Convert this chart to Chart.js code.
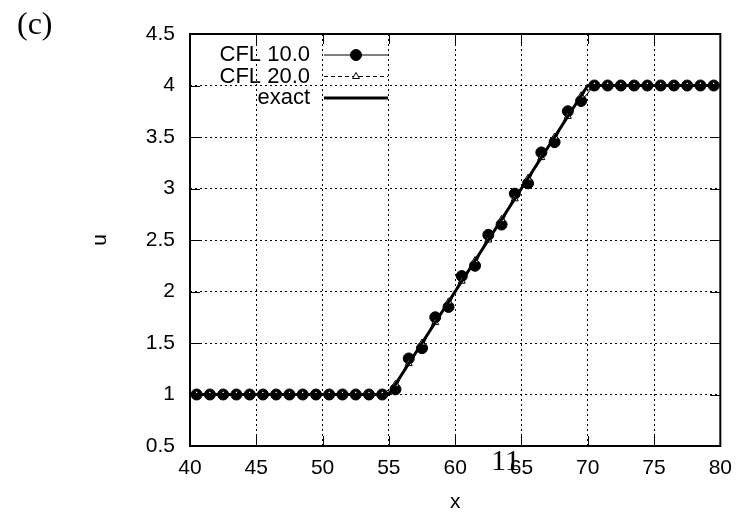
<!DOCTYPE html>
<html>
<head>
<meta charset="utf-8">
<script src="https://cdn.jsdelivr.net/npm/chart.js@4/dist/chart.umd.min.js"></script>
<style>
  html, body { margin: 0; padding: 0; background: #fff; }
  #wrap { position: relative; width: 742px; height: 515px; }
  #plot { position: absolute; left: 0; top: 0; }
  .note { position: absolute; color: #000; line-height: 1; white-space: nowrap;
          font-family: "Liberation Serif", "DejaVu Serif", serif; }
  #panel { left: 17px; top: 7px; font-size: 32px; }
  #page  { left: 491px; top: 445px; font-size: 30px; }
</style>
</head>
<body>
<div id="wrap">
  <canvas id="plot" width="742" height="515"></canvas>
  <div class="note" id="panel">(c)</div>
  <div class="note" id="page">11</div>
</div>
<script>
// cell centres of the grid
const cellCentres = [
  40.5, 41.5, 42.5, 43.5, 44.5, 45.5, 46.5, 47.5, 48.5, 49.5,
  50.5, 51.5, 52.5, 53.5, 54.5, 55.5, 56.5, 57.5, 58.5, 59.5,
  60.5, 61.5, 62.5, 63.5, 64.5, 65.5, 66.5, 67.5, 68.5, 69.5,
  70.5, 71.5, 72.5, 73.5, 74.5, 75.5, 76.5, 77.5, 78.5, 79.5
];
// numerical solution, CFL 10.0
const uCfl10 = [
  1, 1, 1, 1, 1, 1, 1, 1, 1, 1,
  1, 1, 1, 1, 1, 1.05, 1.35, 1.45, 1.75, 1.85,
  2.15, 2.25, 2.55, 2.65, 2.95, 3.05, 3.35, 3.45, 3.75, 3.85,
  4, 4, 4, 4, 4, 4, 4, 4, 4, 4
];
// numerical solution, CFL 20.0
const uCfl20 = [
  1, 1, 1, 1, 1, 1, 1, 1, 1, 1,
  1, 1, 1, 1, 1, 1.1, 1.3, 1.5, 1.7, 1.9,
  2.1, 2.3, 2.5, 2.7, 2.9, 3.1, 3.3, 3.5, 3.7, 3.9,
  4, 4, 4, 4, 4, 4, 4, 4, 4, 4
];
// exact solution (piecewise linear)
const exactX = [40, 55, 70, 80];
const exactU = [1, 1, 4, 4];

const seriesNames = ['CFL 10.0', 'CFL 20.0', 'exact'];
const xTicks = [40, 45, 50, 55, 60, 65, 70, 75, 80];
const yTicks = [0.5, 1, 1.5, 2, 2.5, 3, 3.5, 4, 4.5];

const FAMILY = '"Liberation Sans", Arial, sans-serif';
const FONT = { family: FAMILY, size: 21 };
const KEY_FONT_SIZE = 22;

const pairs = (xs, ys) => xs.map((x, i) => ({ x: x, y: ys[i] }));

// border, mirrored inward tick marks
const framePlugin = {
  id: 'frame',
  beforeDatasetsDraw(chart) {
    const { ctx, chartArea: a, scales } = chart;
    const len = 10;
    ctx.save();
    ctx.strokeStyle = '#000';
    ctx.lineWidth = 1;
    ctx.beginPath();
    xTicks.forEach(v => {
      const px = Math.round(scales.x.getPixelForValue(v)) + 0.5;
      ctx.moveTo(px, a.bottom); ctx.lineTo(px, a.bottom - len);
      ctx.moveTo(px, a.top);    ctx.lineTo(px, a.top + len);
    });
    yTicks.forEach(v => {
      const py = Math.round(scales.y.getPixelForValue(v)) + 0.5;
      ctx.moveTo(a.left, py);  ctx.lineTo(a.left + len, py);
      ctx.moveTo(a.right, py); ctx.lineTo(a.right - len, py);
    });
    ctx.stroke();
    ctx.lineWidth = 2;
    ctx.strokeRect(a.left, a.top, a.right - a.left, a.bottom - a.top);
    ctx.restore();
  }
};

// key in the upper-left corner: right-aligned names followed by line samples
const keyPlugin = {
  id: 'key',
  afterDraw(chart) {
    const { ctx, chartArea: a } = chart;
    const textRight = a.left + 120;
    const s0 = a.left + 134, s1 = a.left + 198, mid = (s0 + s1) / 2;
    const rows = [a.top + 21, a.top + 42.5, a.top + 64];
    ctx.save();
    ctx.font = KEY_FONT_SIZE + 'px ' + FAMILY;
    ctx.textAlign = 'right';
    ctx.textBaseline = 'middle';
    seriesNames.forEach((name, i) => {
      const ds = chart.data.datasets.find(d => d.label === name);
      const y = rows[i];
      ctx.fillStyle = '#000';
      ctx.fillText(name, textRight, y);
      ctx.strokeStyle = ds.borderColor;
      ctx.lineWidth = ds.borderWidth;
      ctx.setLineDash(ds.borderDash || []);
      ctx.beginPath();
      ctx.moveTo(s0, y); ctx.lineTo(s1, y);
      ctx.stroke();
      ctx.setLineDash([]);
      if (ds.pointRadius > 0) {
        ctx.lineWidth = ds.pointBorderWidth;
        ctx.fillStyle = ds.pointBackgroundColor;
        ctx.strokeStyle = ds.pointBorderColor;
        const r = ds.pointRadius;
        ctx.beginPath();
        if (ds.pointStyle === 'triangle') {
          for (let k = 0; k < 3; k++) {
            const ang = k * 2 * Math.PI / 3;
            const px = mid + Math.sin(ang) * r, py = y - Math.cos(ang) * r;
            if (k === 0) ctx.moveTo(px, py); else ctx.lineTo(px, py);
          }
          ctx.closePath();
        } else {
          ctx.arc(mid, y, r, 0, 2 * Math.PI);
        }
        ctx.fill();
        ctx.stroke();
      }
    });
    ctx.restore();
  }
};

const axisCommon = {
  type: 'linear',
  grid: { drawTicks: false, color: '#000', lineWidth: 1 },
  border: { display: false, dash: [2, 3] },
  ticks: { font: FONT, color: '#000', autoSkip: false, maxRotation: 0,
           callback: v => String(v) }
};

new Chart(document.getElementById('plot'), {
  type: 'scatter',
  data: {
    datasets: [
      {
        label: seriesNames[0],
        data: pairs(cellCentres, uCfl10),
        showLine: true,
        borderColor: '#000', borderWidth: 1,
        pointStyle: 'circle', pointRadius: 5.5, pointBorderWidth: 1,
        pointBackgroundColor: '#000', pointBorderColor: '#000',
        order: 2
      },
      {
        label: seriesNames[1],
        data: pairs(cellCentres, uCfl20),
        showLine: true,
        borderColor: '#000', borderWidth: 1, borderDash: [4, 3],
        pointStyle: 'triangle', pointRadius: 4, pointBorderWidth: 1,
        pointBackgroundColor: '#fff', pointBorderColor: '#000',
        order: 1
      },
      {
        label: seriesNames[2],
        data: pairs(exactX, exactU),
        showLine: true,
        borderColor: '#000', borderWidth: 3,
        pointRadius: 0,
        order: 0
      }
    ]
  },
  options: {
    responsive: false,
    animation: false,
    devicePixelRatio: 1,
    layout: { padding: { left: 88, top: 34, right: 18, bottom: 0 } },
    plugins: { legend: { display: false }, tooltip: { enabled: false } },
    scales: {
      x: Object.assign({}, axisCommon, {
        min: 40, max: 80,
        afterBuildTicks: s => { s.ticks = xTicks.map(v => ({ value: v })); },
        afterFit: s => { s.height = 69; },
        ticks: Object.assign({}, axisCommon.ticks, { padding: 10 }),
        title: { display: true, text: 'x', font: FONT, color: '#000', padding: { top: 0, bottom: 0 } }
      }),
      y: Object.assign({}, axisCommon, {
        min: 0.5, max: 4.5,
        afterBuildTicks: s => { s.ticks = yTicks.map(v => ({ value: v })); },
        afterFit: s => { s.width = 102; },
        ticks: Object.assign({}, axisCommon.ticks, { padding: 15 }),
        title: { display: true, text: 'u', font: FONT, color: '#000', padding: { top: 0, bottom: 0 } }
      })
    }
  },
  plugins: [framePlugin, keyPlugin]
});
</script>
</body>
</html>
